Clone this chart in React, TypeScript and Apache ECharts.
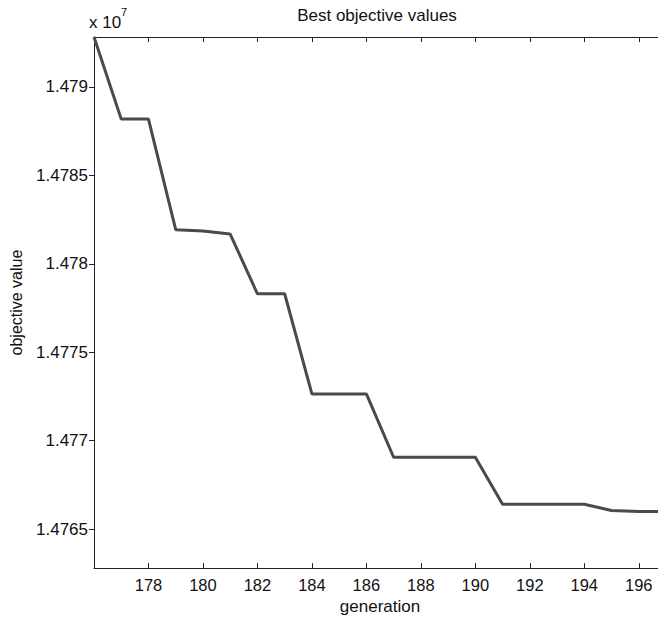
import React, { useEffect, useRef } from "react";
import * as echarts from "echarts";

const generations = [176, 177, 178, 179, 180, 181, 182, 183, 184, 185, 186, 187, 188, 189, 190, 191, 192, 193, 194, 195, 196, 197];
const objectiveValues = [
  14792817, 14788179, 14788179, 14781926, 14781860, 14781681, 14778307, 14778307,
  14772645, 14772645, 14772645, 14769064, 14769064, 14769064, 14769064, 14766408,
  14766408, 14766408, 14766408, 14766058, 14766000, 14766000,
];
const yTickValues = [14765000, 14770000, 14775000, 14780000, 14785000, 14790000];

const FONT = "Liberation Sans, Arial, Helvetica, sans-serif";
const AXIS_COLOR = "#222";

export default function App() {
  const ref = useRef<HTMLDivElement>(null);
  useEffect(() => {
    if (!ref.current) return;
    const chart = echarts.init(ref.current, null, { renderer: "svg" });
    const data = generations.map((g, i) => [g, objectiveValues[i]]);
    chart.setOption({
      animation: false,
      backgroundColor: "#fff",
      grid: { left: 92, right: 34, top: 37, bottom: 45, containLabel: false },
      xAxis: [
        {
          type: "value",
          min: 176,
          max: 197,
          interval: 2,
          name: "generation",
          nameLocation: "middle",
          nameGap: 27,
          nameTextStyle: { fontFamily: FONT, fontSize: 17, color: "#111" },
          axisLine: { show: true, lineStyle: { color: AXIS_COLOR, width: 1 } },
          axisTick: { show: true, inside: true, length: 5, lineStyle: { color: AXIS_COLOR, width: 1 } },
          axisLabel: {
            fontFamily: FONT,
            fontSize: 16.5,
            color: "#111",
            margin: 8,
            formatter: (v: number) => (v === 176 ? "" : String(v)),
          },
          splitLine: { show: false },
        },
        {
          type: "value",
          position: "top",
          min: 176,
          max: 197,
          interval: 2,
          axisLine: { show: true, onZero: false, lineStyle: { color: AXIS_COLOR, width: 1 } },
          axisTick: { show: true, inside: true, length: 5, lineStyle: { color: AXIS_COLOR, width: 1 } },
          axisLabel: { show: false },
          splitLine: { show: false },
        },
      ],
      yAxis: {
        type: "value",
        min: 14762800,
        max: 14792820,
        name: "objective value",
        nameLocation: "middle",
        nameGap: 70,
        nameRotate: 90,
        nameTextStyle: { fontFamily: FONT, fontSize: 16, color: "#111" },
        axisLine: { show: true, lineStyle: { color: AXIS_COLOR, width: 1 } },
        axisTick: { show: true, inside: false, length: 5, lineStyle: { color: AXIS_COLOR, width: 1 }, customValues: yTickValues },
        axisLabel: {
          fontFamily: FONT,
          fontSize: 17,
          color: "#111",
          margin: 6,
          customValues: yTickValues,
          formatter: (v: number) => String(v / 1e7),
        },
        splitLine: { show: false },
      },
      series: [
        {
          type: "line",
          data,
          symbol: "none",
          clip: true,
          lineStyle: { color: "#4a4a4a", width: 3 },
        },
      ],
      graphic: [
        {
          type: "text",
          x: 377,
          y: 15,
          style: {
            text: "Best objective values",
            fontFamily: FONT,
            fontSize: 17,
            fill: "#111",
            align: "center",
            verticalAlign: "middle",
          },
        },
        {
          type: "text",
          x: 89,
          y: 22,
          style: { text: "x 10", fontFamily: FONT, fontSize: 17, fill: "#111", verticalAlign: "middle" },
        },
        {
          type: "text",
          x: 121,
          y: 12,
          style: { text: "7", fontFamily: FONT, fontSize: 11, fill: "#111", verticalAlign: "middle" },
        },
      ],
    });
    return () => chart.dispose();
  }, []);
  return (
    <div style={{ position: "fixed", left: 0, top: 0, width: 658, height: 620, overflow: "hidden", background: "#fff" }}>
      <div ref={ref} style={{ width: 700, height: 620 }} />
    </div>
  );
}
